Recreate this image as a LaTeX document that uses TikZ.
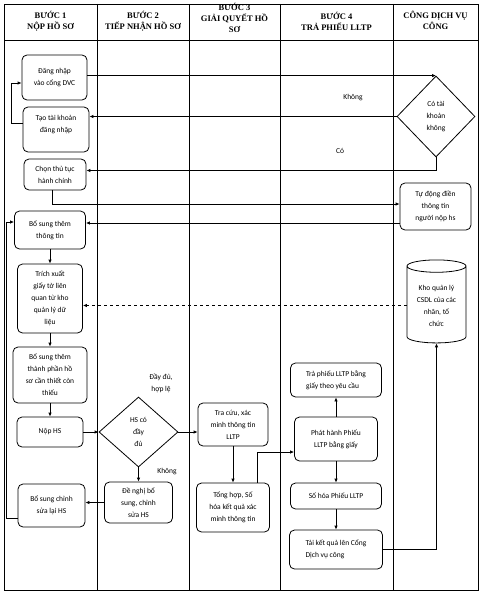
\documentclass[tikz,border=0pt]{standalone}
\usepackage{fontspec}
\setmainfont{Carlito}
\newfontfamily\headfont{Liberation Serif}
\usetikzlibrary{arrows.meta,shapes.geometric}

\newcommand\hsfont{\fontsize{7.5}{12}\selectfont}

\tikzset{
  hsbox/.style={draw, line width=0.8pt, rounded corners=5pt, align=center, inner sep=1pt, font=\hsfont},
  hsleft/.style={hsbox, align=left},
  hsdec/.style={draw, diamond, line width=0.8pt, align=center, inner sep=0pt, font=\hsfont},
  hsdb/.style={draw, cylinder, shape border rotate=90, aspect=0.3, line width=0.8pt, align=center, inner sep=1pt, font=\hsfont},
  hsarr/.style={-{Latex[length=4pt,width=3.5pt]}, line width=0.8pt},
  hslabel/.style={font=\hsfont, align=center},
  heading/.style={font=\headfont\bfseries\fontsize{8.5}{11}\selectfont, align=center}
}

\begin{document}
\begin{tikzpicture}[x=1pt, y=-1pt]
    \useasboundingbox (0,0) rectangle (482,594);

    % swim lanes
    \draw[line width=0.8pt] (4,4) rectangle (478,590);
    \draw[line width=0.8pt] (4,40) -- (478,40);
    \foreach \x in {97,189,280,393}
        \draw[line width=0.8pt] (\x,4) -- (\x,590);

    \foreach \i/\x/\y/\t in {1/50.5/21/{BƯỚC 1\\NỘP HỒ SƠ}, 2/143/21/{BƯỚC 2\\TIẾP NHẬN HỒ SƠ},
        3/234.5/18/{BƯỚC 3\\GIẢI QUYẾT HỒ\\SƠ}, 4/336.5/21/{BƯỚC 4\\TRẢ PHIẾU LLTP},
        5/435.5/20.5/{CÔNG DỊCH VỤ\\CÔNG}}
        \node[heading] (head\i) at (\x,\y) {\t};

    % buoc 1
    \node[hsbox, minimum width=65, minimum height=45] (dangnhap) at (54.5,77.5) {Đăng nhập\\vào cổng DVC};
    \node[hsbox, minimum width=66, minimum height=45] (taotk) at (56,129.5) {Tạo tài khoản\\đăng nhập\\\mbox{}};
    \node[hsbox, minimum width=62, minimum height=31] (chon) at (55,174.5) {Chọn thủ tục\\hành chính};
    \node[hsbox, minimum width=71, minimum height=38] (bosung1) at (50,230) {Bổ sung thêm\\thông tin};
    \node[hsbox, minimum width=65, minimum height=69] (trichxuat) at (50,298.5) {Trích xuất\\giấy tờ liên\\quan từ kho\\quản lý dữ\\liệu};
    \node[hsbox, minimum width=74, minimum height=56] (bosung2) at (50,375) {Bổ sung thêm\\thành phần hồ\\sơ cần thiết còn\\thiếu};
    \node[hsbox, minimum width=66, minimum height=30] (nophs) at (50,432) {Nộp HS};
    \node[hsbox, minimum width=67, minimum height=43] (bosungcs) at (51.5,505.5) {Bổ sung chỉnh\\sửa lại HS};

    % buoc 2
    \node[hsdec, minimum width=79, minimum height=70] (hsdd) at (138.5,432) {HS có\\đầy\\đủ};
    \node[hsbox, minimum width=68, minimum height=41] (denghi) at (138.5,502.5) {Đề nghị bổ\\sung, chỉnh\\sửa HS};
    \node[hslabel] (lbdaydu) at (161,383) {Đầy đủ,\\hợp lệ};
    \node[hslabel] (lbkhong2) at (167,472) {Không};

    % buoc 3
    \node[hsbox, minimum width=70, minimum height=43] (tracuu) at (233,424.5) {Tra cứu, xác\\minh thông tin\\LLTP};
    \node[hsbox, minimum width=73, minimum height=49] (tonghop) at (233,507.5) {Tổng hợp, Số\\hóa kết quả xác\\minh thông tin};

    % buoc 4
    \node[hsleft, minimum width=91, minimum height=34] (traphieu) at (336,380) {Trả phiếu LLTP bằng\\giấy theo yêu cầu};
    \node[hsbox, minimum width=83, minimum height=44] (phathanh) at (336,439) {Phát hành Phiếu\\LLTP bằng giấy};
    \node[hsleft, minimum width=91, minimum height=26] (sohoa) at (336,496) {Số hóa Phiếu LLTP};
    \node[hsleft, minimum width=93, minimum height=39] (taiketqua) at (336,549.5) {Tải kết quả lên Cổng\\Dịch vụ công};

    % cong dich vu cong
    \node[hsdec, minimum width=78, minimum height=81] (cotk) at (436,116.5) {Có tài\\khoản\\không};
    \node[hsbox, minimum width=71, minimum height=47] (tudong) at (435.5,206.5) {Tự động điền\\thông tin\\người nộp hs};
    \node[hsdb, minimum width=59, minimum height=83] (kho) at (436.5,305.5) {Kho quản lý\\CSDL của các\\nhân, tổ\\chức};
    \node[hslabel] (lbkhong1) at (353,98) {Không};
    \node[hslabel] (lbco) at (340,151) {Có};

    % arrows
    \draw[hsarr] (dangnhap.east |- cotk.north) -- (cotk.north);
    \draw[hsarr] (cotk.west) -- (cotk.west -| taotk.east);
    \draw[hsarr] ([yshift=6.5]taotk.west) -- ++(-11,0) |- ([yshift=-5.5]dangnhap.west);
    \draw[hsarr] (cotk.south) |- ([yshift=4]chon.east);
    \draw[hsarr] ([xshift=-3]chon.south) |- ([yshift=2.5]tudong.west);
    \draw[hsarr] ([yshift=-16.5]tudong.west) -- ([yshift=-16.5]tudong.west -| bosung1.east);
    \draw[hsarr] (bosung1) -- (trichxuat);
    \draw[hsarr, dashed] (kho.west) -- (kho.west -| trichxuat.east);
    \draw[hsarr] (trichxuat) -- (bosung2);
    \draw[hsarr] (bosung2) -- (nophs);
    \draw[hsarr] (nophs) -- (hsdd);
    \draw[hsarr] (hsdd.east) -- (hsdd.east -| tracuu.west);
    \draw[hsarr] (hsdd) -- (denghi);
    \draw[hsarr] (denghi.west) -- (denghi.west -| bosungcs.east);
    \draw[hsarr] ([yshift=-12.5]bosungcs.west) -- ++(-11,0) |- ([yshift=8]bosung1.west);
    \draw[hsarr] (tracuu) -- (tonghop);
    \draw[hsarr] ([xshift=24]tonghop.north) |- ([yshift=-13]phathanh.west);
    \draw[hsarr] (phathanh) -- (traphieu);
    \draw[hsarr] (phathanh) -- (sohoa);
    \draw[hsarr] (sohoa) -- (taiketqua);
    \draw[hsarr] (taiketqua.east) -| (kho.south);
\end{tikzpicture}
\end{document}
